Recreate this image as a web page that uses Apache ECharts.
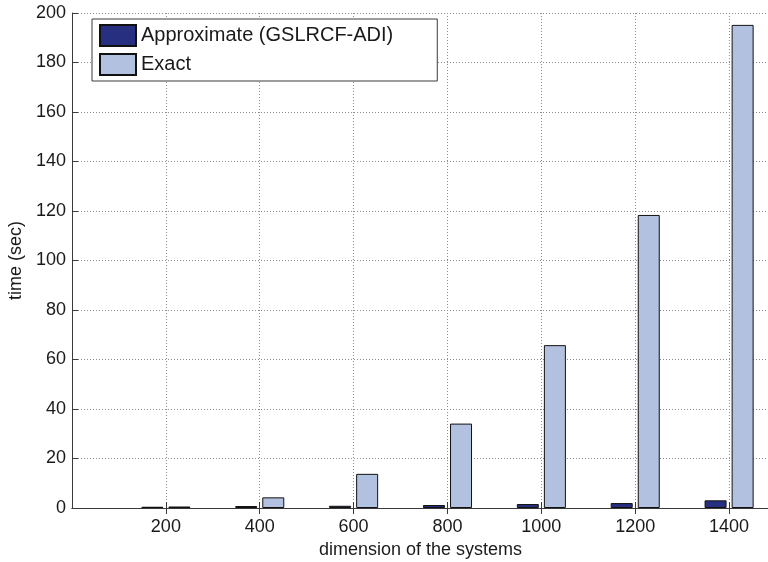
<!DOCTYPE html>
<html>
<head>
<meta charset="utf-8">
<script src="https://cdn.jsdelivr.net/npm/echarts@6/dist/echarts.min.js"></script>
<style>
  html, body { margin: 0; padding: 0; background: #fff; }
  #chart { width: 768px; height: 562px; }
</style>
</head>
<body>
<div id="chart"></div>
<script>
// System dimensions and measured run times in seconds
const dimensions = [200, 400, 600, 800, 1000, 1200, 1400];
const approxTimes = [0.5, 0.8, 0.9, 1.2, 1.6, 2.0, 3.1];
const exactTimes = [0.6, 4.3, 13.8, 34.1, 65.8, 118.4, 195.2];
const seriesNames = ['Approximate (GSLRCF-ADI)', 'Exact'];
const xTicks = [200, 400, 600, 800, 1000, 1200, 1400];
const yTicks = [0, 20, 40, 60, 80, 100, 120, 140, 160, 180, 200];

const FONT = '"Liberation Sans", Arial, Helvetica, sans-serif';
const AXIS = '#3a3a3a';
const GRID = '#8c8c8c';

const chart = echarts.init(document.getElementById('chart'), null, { renderer: 'canvas' });

const xLabel = v => (xTicks.indexOf(v) >= 0 ? String(v) : '');

chart.setOption({
  animation: false,
  backgroundColor: '#ffffff',
  textStyle: { fontFamily: FONT },
  grid: { left: 72, right: -1, top: 13, bottom: 54, containLabel: false, outerBoundsMode: 'none' },
  legend: {
    orient: 'vertical',
    left: 92,
    top: 19,
    padding: [5, 44, 5, 7],
    itemGap: 6,
    itemWidth: 36,
    itemHeight: 21,
    backgroundColor: '#ffffff',
    borderColor: AXIS,
    borderWidth: 1,
    borderRadius: 0,
    icon: 'rect',
    data: seriesNames,
    textStyle: { fontFamily: FONT, fontSize: 20, color: '#1a1a1a' }
  },
  xAxis: [
    {
      type: 'value',
      min: 0,
      max: 1485,
      interval: 200,
      name: 'dimension of the systems',
      nameLocation: 'middle',
      nameGap: 31,
      nameTextStyle: { fontFamily: FONT, fontSize: 18, color: '#1a1a1a' },
      axisLine: { show: true, onZero: false, lineStyle: { color: AXIS, width: 1 } },
      axisTick: { show: true, inside: true, length: 6, customValues: xTicks, lineStyle: { color: AXIS } },
      axisLabel: { fontFamily: FONT, fontSize: 18, color: '#1a1a1a', margin: 10, customValues: xTicks, formatter: xLabel },
      splitLine: { show: true, lineStyle: { color: GRID, type: [1, 2], width: 1 } }
    },
    {
      type: 'value',
      position: 'top',
      min: 0,
      max: 1485,
      interval: 200,
      axisLine: { show: true, lineStyle: { color: AXIS, width: 1 } },
      axisTick: { show: true, inside: true, length: 6, customValues: xTicks, lineStyle: { color: AXIS } },
      axisLabel: { show: false },
      splitLine: { show: false }
    }
  ],
  yAxis: {
    type: 'value',
    min: 0,
    max: 200,
    interval: 20,
    name: 'time (sec)',
    nameLocation: 'middle',
    nameGap: 40,
    nameTextStyle: { fontFamily: FONT, fontSize: 18, color: '#1a1a1a' },
    axisLine: { show: true, lineStyle: { color: AXIS, width: 1 } },
    axisTick: { show: true, inside: true, length: 6, lineStyle: { color: AXIS } },
    axisLabel: {
      fontFamily: FONT, fontSize: 18, color: '#1a1a1a', margin: 6,
      formatter: v => (yTicks.indexOf(v) >= 0 ? String(v) : '')
    },
    splitLine: { show: true, lineStyle: { color: GRID, type: [1, 2], width: 1 } }
  },
  series: [
    {
      name: seriesNames[0],
      type: 'bar',
      xAxisIndex: 0,
      barWidth: 22,
      barGap: '23%',
      itemStyle: { color: '#262f80', borderColor: '#111111', borderWidth: 1 },
      data: dimensions.map((d, i) => [d, approxTimes[i]])
    },
    {
      name: seriesNames[1],
      type: 'bar',
      xAxisIndex: 0,
      barWidth: 22,
      barGap: '23%',
      itemStyle: { color: '#b3c1e1', borderColor: '#111111', borderWidth: 1 },
      data: dimensions.map((d, i) => [d, exactTimes[i]])
    }
  ]
});
</script>
</body>
</html>
